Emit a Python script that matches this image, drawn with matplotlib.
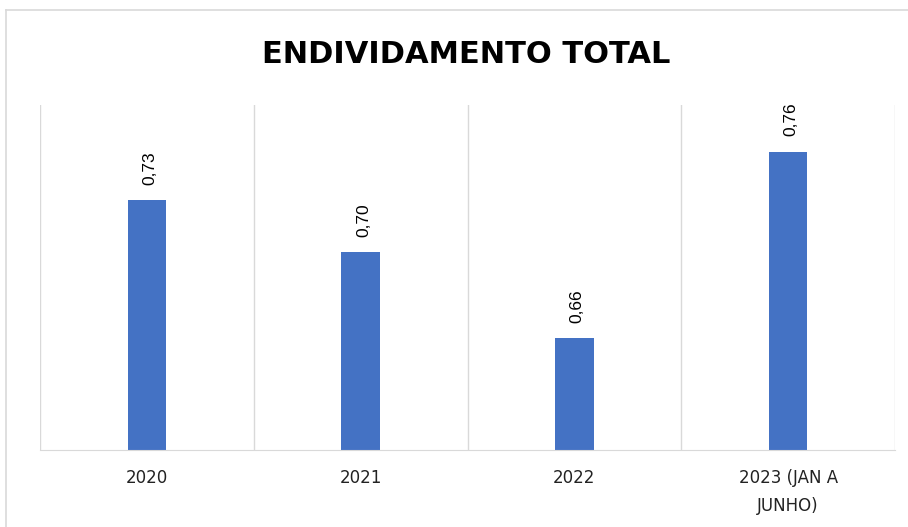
import matplotlib.pyplot as plt
from matplotlib.lines import Line2D

# --- dados ---
categorias = ["2020", "2021", "2022", "2023 (JAN A\nJUNHO)"]
valores = [0.734, 0.706, 0.660, 0.760]
rotulos = ["0,73", "0,70", "0,66", "0,76"]

cor_barra = "#4472C4"
cor_grade = "#d9d9d9"

fig = plt.figure(figsize=(9.08, 5.27), dpi=100)
ax = fig.add_axes([40 / 908, 77 / 527, 855 / 908, 345 / 527])

x = list(range(len(categorias)))
ax.bar(x, valores, width=0.18, color=cor_barra, zorder=3)

ax.set_xlim(-0.5, len(categorias) - 0.5)
ax.set_ylim(0.6, 0.785)

# linhas verticais entre categorias
for g in [i - 0.5 for i in range(len(categorias) + 1)]:
    ax.axvline(g, color=cor_grade, lw=1, zorder=1)

for xi, v, r in zip(x, valores, rotulos):
    ax.annotate(r, (xi, v), xytext=(2, 11), textcoords="offset points",
                rotation=90, ha="center", va="bottom", fontsize=12.5,
                family="Liberation Sans", color="#000000")

ax.set_xticks(x)
ax.set_xticklabels(categorias, fontsize=12, color="#222222", linespacing=1.7)
ax.tick_params(axis="x", length=0, pad=14)
ax.set_yticks([])
for s in ["top", "left", "right"]:
    ax.spines[s].set_visible(False)
ax.spines["bottom"].set_color(cor_grade)
ax.spines["bottom"].set_zorder(4)

fig.text(0.513, 0.896, "ENDIVIDAMENTO TOTAL", ha="center", va="center",
         fontsize=22, fontweight="bold", color="#000000")

# moldura do gráfico
fig.add_artist(Line2D([6 / 908, 6 / 908], [0, 1 - 10 / 527], color=cor_grade, lw=1.2))
fig.add_artist(Line2D([6 / 908, 1], [1 - 10 / 527, 1 - 10 / 527], color=cor_grade, lw=1.2))

fig.savefig("out.png", dpi=100, facecolor="white")
